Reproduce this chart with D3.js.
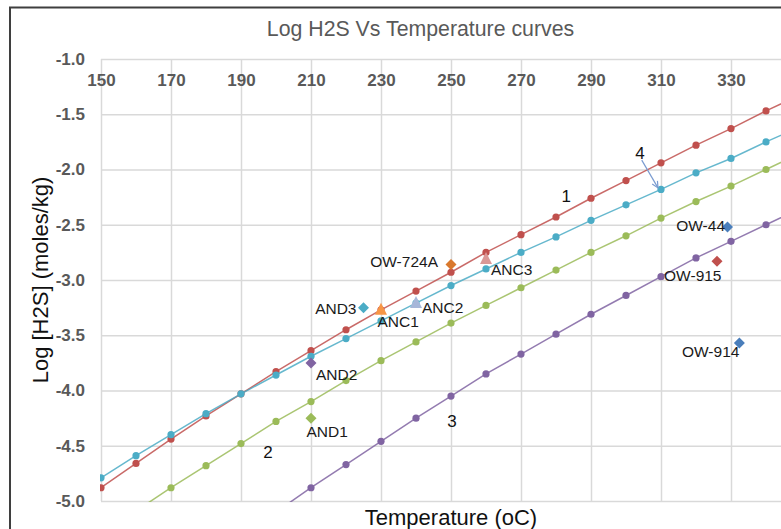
<!DOCTYPE html>
<html><head><meta charset="utf-8">
<script src="https://cdn.jsdelivr.net/npm/d3@7"></script>
<style>html,body{margin:0;padding:0;background:#fff;overflow:hidden}</style>
</head><body>
<svg id="chart" width="781" height="529"></svg>
<script>
// ---------- data ----------
const temps   = [150,160,170,180,190,200,210,220,230,240,250,260,270,280,290,300,310,320,330,340,350];
const curve1  = [-4.88,-4.66,-4.44,-4.23,-4.03,-3.83,-3.64,-3.45,-3.27,-3.10,-2.93,-2.75,-2.59,-2.43,-2.26,-2.10,-1.94,-1.78,-1.63,-1.47,-1.32];
const curve4  = [-4.79,-4.59,-4.40,-4.21,-4.03,-3.86,-3.69,-3.53,-3.37,-3.21,-3.05,-2.90,-2.75,-2.61,-2.46,-2.32,-2.18,-2.03,-1.90,-1.75,-1.61];
const curve2  = [null,-5.09,-4.88,-4.68,-4.48,-4.28,-4.10,-3.91,-3.73,-3.56,-3.39,-3.23,-3.07,-2.91,-2.75,-2.60,-2.44,-2.29,-2.15,-2.00,-1.85];
const curve3  = [null,null,null,null,null,-5.10,-4.88,-4.67,-4.46,-4.25,-4.05,-3.85,-3.67,-3.49,-3.31,-3.14,-2.97,-2.80,-2.65,-2.50,-2.35];
const xTicks  = [150,170,190,210,230,250,270,290,310,330];
const yTicks  = [-1.0,-1.5,-2.0,-2.5,-3.0,-3.5,-4.0,-4.5,-5.0];

const wellNames = ["OW-724A","ANC3","AND3","ANC1","ANC2","AND2","AND1","OW-44","OW-915","OW-914"];
const wellTemp  = [250,260,225,230,240,210,210,329,326,332.4];
const wellLogH2S= [-2.86,-2.80,-3.25,-3.26,-3.20,-3.75,-4.25,-2.52,-2.83,-3.57];

const curveNames = ["1","4","2","3"];
const curveLabelT = [282.9,304,197.7,250.3];
const curveLabelY = [-2.29,-1.905,-4.608,-4.333];

// ---------- styles ----------
const curveColors = {"1":"#C0504D","4":"#4BACC6","2":"#9BBB59","3":"#8064A2"};
const wellStyle = {
  "OW-724A":{shape:"diamond",color:"#D9782D",anchor:"end",dx:-13,dy:2},
  "ANC3":{shape:"triangle",color:"#DA9896",anchor:"start",dx:5,dy:17.5},
  "AND3":{shape:"diamond",color:"#4BACC6",anchor:"end",dx:-7,dy:6},
  "ANC1":{shape:"triangle",color:"#F79646",anchor:"start",dx:-3.5,dy:18.5},
  "ANC2":{shape:"triangle",color:"#A7B7D9",anchor:"start",dx:6,dy:11},
  "AND2":{shape:"diamond",color:"#8064A2",anchor:"start",dx:5,dy:17},
  "AND1":{shape:"diamond",color:"#9BBB59",anchor:"start",dx:-4.5,dy:19},
  "OW-44":{shape:"diamond",color:"#4A7EBB",anchor:"end",dx:-2.5,dy:4.5},
  "OW-915":{shape:"diamond",color:"#C0504D",anchor:"end",dx:4.5,dy:19.7},
  "OW-914":{shape:"diamond",color:"#4A7EBB",anchor:"end",dx:0,dy:14.5}
};

// ---------- chart ----------
const svg = d3.select("#chart");
const L = 101, T = 59, R = 801, B = 501;
const x = d3.scaleLinear().domain([150,350]).range([L,R]);
const y = d3.scaleLinear().domain([-5,-1]).range([B,T]);
const font = "Liberation Sans, Arial, sans-serif";

svg.append("rect").attr("x",10).attr("y",7.5).attr("width",820).attr("height",560)
  .attr("fill","#fff").attr("stroke","#3f3f3f").attr("stroke-width",2);

svg.append("defs").append("clipPath").attr("id","plot")
  .append("rect").attr("x",L-1).attr("y",T-1).attr("width",R-L+2).attr("height",B-T+2);

// gridlines
svg.append("g").attr("transform",`translate(0,${T})`)
  .call(d3.axisBottom(x).tickValues(xTicks.concat([350])).tickSize(B-T).tickFormat(""))
  .call(g=>{g.select(".domain").remove();g.selectAll("line").attr("stroke","#d9d9d9").attr("stroke-width",1.5);});
svg.append("g").attr("transform",`translate(${L},0)`)
  .call(d3.axisRight(y).tickValues(yTicks).tickSize(R-L).tickFormat(""))
  .call(g=>{g.select(".domain").remove();g.selectAll("line").attr("stroke","#d9d9d9").attr("stroke-width",1.5);});

// tick labels
svg.append("g").attr("transform",`translate(0,${T})`)
  .call(d3.axisBottom(x).tickValues(xTicks).tickSize(0).tickPadding(15).tickFormat(d=>String(d)))
  .call(g=>{g.select(".domain").remove();g.selectAll("text").attr("fill","#595959")
    .attr("font-family",font).attr("font-weight","bold").attr("font-size",17);});
svg.append("g").attr("transform",`translate(${L},0)`)
  .call(d3.axisLeft(y).tickValues(yTicks).tickSize(0).tickPadding(16).tickFormat(d=>d.toFixed(1)))
  .call(g=>{g.select(".domain").remove();g.selectAll("text").attr("fill","#595959")
    .attr("font-family",font).attr("font-weight","bold").attr("font-size",17);});

// titles
svg.append("text").attr("x",420.5).attr("y",36).attr("text-anchor","middle")
  .attr("font-family",font).attr("font-size",21.3).attr("fill","#595959")
  .text("Log H2S Vs Temperature curves");
svg.append("text").attr("x",451).attr("y",524.5).attr("text-anchor","middle")
  .attr("font-family",font).attr("font-size",22).attr("fill","#111")
  .text("Temperature (oC)");
svg.append("text").attr("transform","translate(47.5,280) rotate(-90)").attr("text-anchor","middle")
  .attr("font-family",font).attr("font-size",22).attr("fill","#111")
  .text("Log [H2S] (moles/kg)");

// curves
const series = [
  {name:"1",vals:curve1},{name:"4",vals:curve4},{name:"2",vals:curve2},{name:"3",vals:curve3}
];
const plot = svg.append("g").attr("clip-path","url(#plot)");
const line = d3.line().defined(d=>d[1]!=null).x(d=>x(d[0])).y(d=>y(d[1]));
series.forEach(s=>{
  const pts = temps.map((t,i)=>[t,s.vals[i]]);
  plot.append("path").datum(pts).attr("d",line).attr("fill","none")
    .attr("stroke",curveColors[s.name]).attr("stroke-width",1.5).attr("stroke-opacity",0.85);
  plot.selectAll(null).data(pts.filter(d=>d[1]!=null)).enter().append("circle")
    .attr("cx",d=>x(d[0])).attr("cy",d=>y(d[1])).attr("r",3.6).attr("fill",curveColors[s.name]);
});

// well points
const wells = wellNames.map((n,i)=>({name:n,t:wellTemp[i],v:wellLogH2S[i]}));
const gW = svg.append("g");
wells.forEach(w=>{
  const st = wellStyle[w.name];
  const px = x(w.t), py = y(w.v);
  if (st.shape==="diamond") {
    const r = 5.5;
    gW.append("path").attr("d",`M${px},${py-r}L${px+r},${py}L${px},${py+r}L${px-r},${py}Z`).attr("fill",st.color);
  } else {
    const hw = 6, hh = 6;
    gW.append("path").attr("d",`M${px},${py-hh}L${px+hw},${py+hh}L${px-hw},${py+hh}Z`).attr("fill",st.color);
  }
  gW.append("text").attr("x",px+st.dx).attr("y",py+st.dy).attr("text-anchor",st.anchor)
    .attr("font-family",font).attr("font-size",15.5).attr("fill","#1a1a1a").text(w.name);
});

// curve labels
curveNames.forEach((n,i)=>{
  svg.append("text").attr("x",x(curveLabelT[i])).attr("y",y(curveLabelY[i])).attr("text-anchor","middle")
    .attr("font-family",font).attr("font-size",17).attr("fill","#111").text(n);
});

// arrow from "4" to curve 4 point at 310
const iT = temps.indexOf(310);
const ax0 = x(304.5), ay0 = y(-1.915);
const ax1 = x(310)-3, ay1 = y(curve4[iT])-1.5;
svg.append("line").attr("x1",ax0).attr("y1",ay0).attr("x2",ax1).attr("y2",ay1)
  .attr("stroke","#7a9bd0").attr("stroke-width",1.2);
const ang = Math.atan2(ay1-ay0, ax1-ax0);
const ah = 7, aw = 0.45;
svg.append("path")
  .attr("d",`M${ax1-ah*Math.cos(ang-aw)},${ay1-ah*Math.sin(ang-aw)}L${ax1},${ay1}L${ax1-ah*Math.cos(ang+aw)},${ay1-ah*Math.sin(ang+aw)}`)
  .attr("fill","none").attr("stroke","#7a9bd0").attr("stroke-width",1.2);
</script>
</body></html>
